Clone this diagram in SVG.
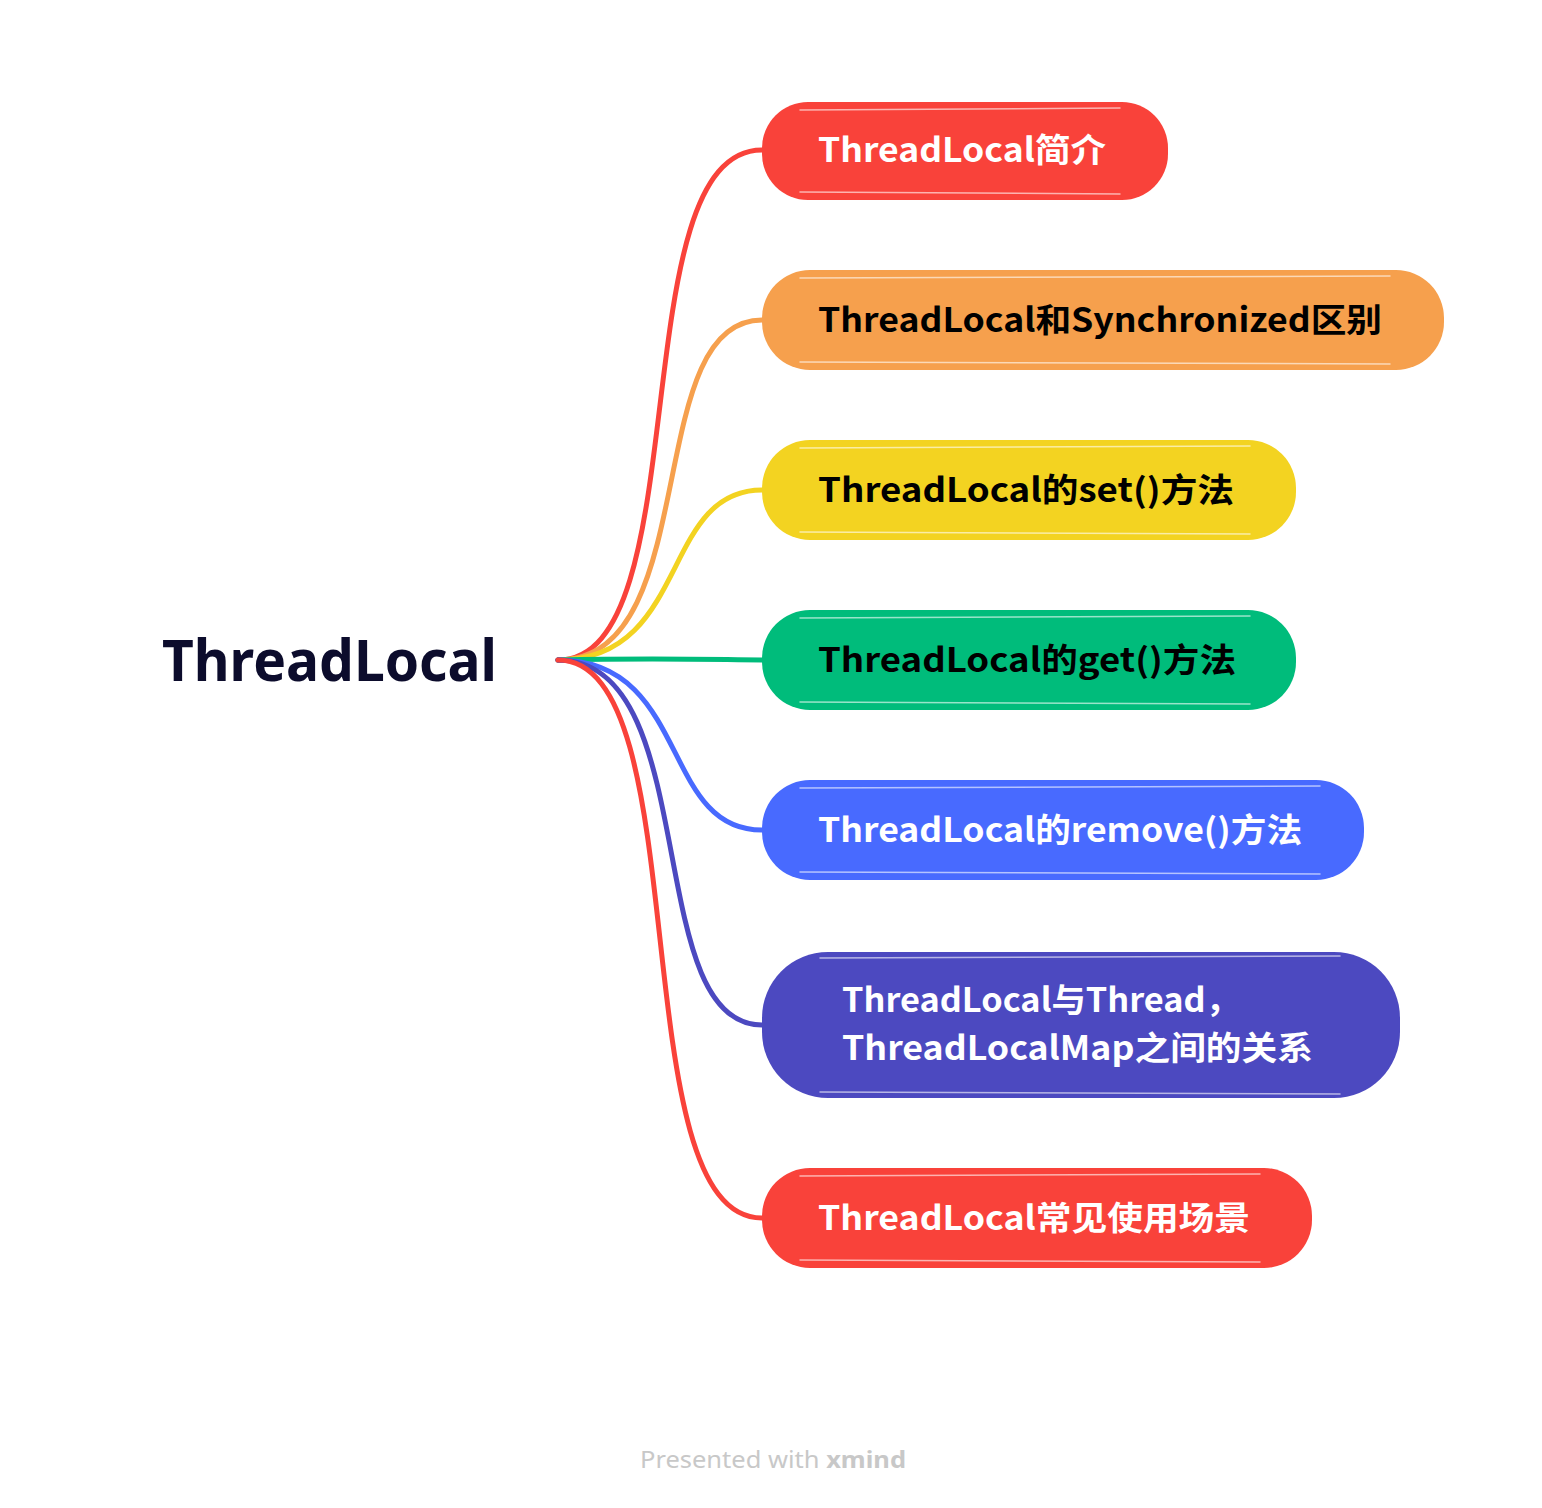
<svg xmlns="http://www.w3.org/2000/svg" width="1542" height="1508" viewBox="0 0 1542 1508">
<style>
.bg{fill:#ffffff}
.conn{fill:none;stroke-width:5;stroke-linecap:round}
.t{font-family:"Noto Sans CJK SC","Noto Sans",sans-serif;font-weight:700;font-size:33px}
.w{fill:#ffffff}
.k{fill:#000000}
.hl{fill:none;stroke:#ffffff;stroke-width:1.5;stroke-opacity:0.6;stroke-linecap:round}
.root{font-family:"Noto Sans","Noto Sans CJK SC",sans-serif;font-weight:700;font-size:58px;fill:#0c0c2c}
.foot{font-family:"Noto Sans",sans-serif;font-size:24px;fill:#c8c8c8}
</style>
<rect class="bg" x="0" y="0" width="1542" height="1508"/>
<g id="connectors">
<path class="conn" stroke="#F9423A" d="M558,660 C700,660 620,150 762,150"/>
<path class="conn" stroke="#F6A04D" d="M558,660 C705,660 640,320 762,320"/>
<path class="conn" stroke="#F3D321" d="M558,660 C690,660 660,490 762,490"/>
<path class="conn" stroke="#00BC7B" d="M558,660 C650,658 680,659 762,660"/>
<path class="conn" stroke="#486AFF" d="M558,660 C690,660 660,830 762,830"/>
<path class="conn" stroke="#4C49C0" d="M558,660 C705,660 640,1025 762,1025"/>
<path class="conn" stroke="#F9423A" d="M558,660 C700,660 620,1218 762,1218"/>
</g>
<g id="root">
<text class="root" x="162" y="681" textLength="335" lengthAdjust="spacingAndGlyphs">ThreadLocal</text>
</g>
<g id="node1">
<rect x="762" y="102" width="406" height="98" rx="46" fill="#F9423A"/>
<path class="hl" d="M800,110 L1120,108 M800,192 L1120,194"/>
<text class="t w" x="818" y="162" textLength="288" lengthAdjust="spacingAndGlyphs">ThreadLocal简介</text>
</g>
<g id="node2">
<rect x="762" y="270" width="682" height="100" rx="48" fill="#F6A04D"/>
<path class="hl" d="M800,278 L1390,276 M800,362 L1390,364"/>
<text class="t k" x="818" y="332" textLength="564" lengthAdjust="spacingAndGlyphs">ThreadLocal和Synchronized区别</text>
</g>
<g id="node3">
<rect x="762" y="440" width="534" height="100" rx="48" fill="#F3D321"/>
<path class="hl" d="M800,448 L1250,446 M800,532 L1250,534"/>
<text class="t k" x="818" y="502" textLength="416" lengthAdjust="spacingAndGlyphs">ThreadLocal的set()方法</text>
</g>
<g id="node4">
<rect x="762" y="610" width="534" height="100" rx="48" fill="#00BC7B"/>
<path class="hl" d="M800,618 L1250,616 M800,702 L1250,704"/>
<text class="t k" x="818" y="672" textLength="418" lengthAdjust="spacingAndGlyphs">ThreadLocal的get()方法</text>
</g>
<g id="node5">
<rect x="762" y="780" width="602" height="100" rx="48" fill="#486AFF"/>
<path class="hl" d="M800,788 L1320,786 M800,872 L1320,874"/>
<text class="t w" x="818" y="842" textLength="484" lengthAdjust="spacingAndGlyphs">ThreadLocal的remove()方法</text>
</g>
<g id="node6">
<rect x="762" y="952" width="638" height="146" rx="66" fill="#4C49C0"/>
<path class="hl" d="M820,958 L1340,956 M820,1092 L1340,1094"/>
<text class="t w" x="842" y="1012" textLength="398" lengthAdjust="spacingAndGlyphs">ThreadLocal与Thread，</text>
<text class="t w" x="842" y="1060" textLength="471" lengthAdjust="spacingAndGlyphs">ThreadLocalMap之间的关系</text>
</g>
<g id="node7">
<rect x="762" y="1168" width="550" height="100" rx="48" fill="#F9423A"/>
<path class="hl" d="M800,1176 L1260,1174 M800,1260 L1260,1262"/>
<text class="t w" x="818" y="1230" textLength="432" lengthAdjust="spacingAndGlyphs">ThreadLocal常见使用场景</text>
</g>
<g id="footer">
<text class="foot" x="640" y="1468" textLength="266" lengthAdjust="spacingAndGlyphs">Presented with <tspan font-weight="700">xmind</tspan></text>
</g>
</svg>
